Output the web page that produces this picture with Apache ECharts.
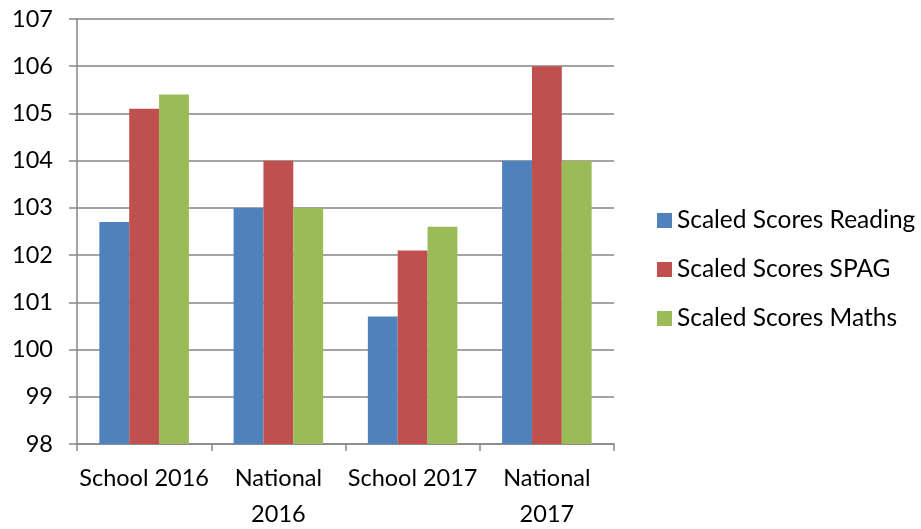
<!DOCTYPE html>
<html><head><meta charset="utf-8">
<script src="https://cdn.jsdelivr.net/npm/echarts@6/dist/echarts.min.js"></script>
<style>html,body{margin:0;padding:0;background:#fff}#c{width:921px;height:529px}</style>
</head><body><div id="c"></div>
<script>
const categories = ['School 2016', 'National 2016', 'School 2017', 'National 2017'];
const reading = [102.7, 103, 100.7, 104];
const spag = [105.1, 104, 102.1, 106];
const maths = [105.4, 103, 102.6, 104];
const seriesNames = ['Scaled Scores Reading', 'Scaled Scores SPAG', 'Scaled Scores Maths'];
const colors = ['#4F81BD', '#C0504D', '#9BBB59'];

const FONT = 'Lato';
const chart = echarts.init(document.getElementById('c'), null, {renderer: 'canvas'});
const mk = (name, data, color) => ({
  name, type: 'bar', data, barGap: '0%', barCategoryGap: '33.3%',
  itemStyle: {color}, emphasis: {disabled: true}
});
chart.setOption({
  animation: false,
  textStyle: {fontFamily: FONT},
  grid: {left: 77, right: 307, top: 19, bottom: 85, containLabel: false, outerBoundsMode: 'none'},
  legend: {
    orient: 'vertical', left: 652, top: 203, itemWidth: 15, itemHeight: 15, itemGap: 24,
    icon: 'rect',
    textStyle: {fontFamily: FONT, fontSize: 24.5, color: '#000'},
    data: seriesNames
  },
  xAxis: {
    type: 'category', data: categories,
    axisLine: {lineStyle: {color: '#868686', width: 1.5}},
    axisTick: {show: true, length: 7, lineStyle: {color: '#868686', width: 1.5}},
    axisLabel: {
      interval: 0, color: '#000', fontSize: 23.5, fontFamily: FONT, margin: 16, lineHeight: 36,
      formatter: v => v.startsWith('National') ? v.replace(' ', '\n') : v
    }
  },
  yAxis: {
    type: 'value', min: 98, max: 107, interval: 1,
    axisLine: {show: true, lineStyle: {color: '#868686', width: 1.5}},
    axisTick: {show: true, length: 8, lineStyle: {color: '#868686', width: 1.5}},
    splitLine: {lineStyle: {color: '#868686', width: 1.5}},
    axisLabel: {color: '#000', fontSize: 23.5, fontFamily: FONT, margin: 24}
  },
  series: [
    mk(seriesNames[0], reading, colors[0]),
    mk(seriesNames[1], spag, colors[1]),
    mk(seriesNames[2], maths, colors[2])
  ]
});
</script></body></html>
